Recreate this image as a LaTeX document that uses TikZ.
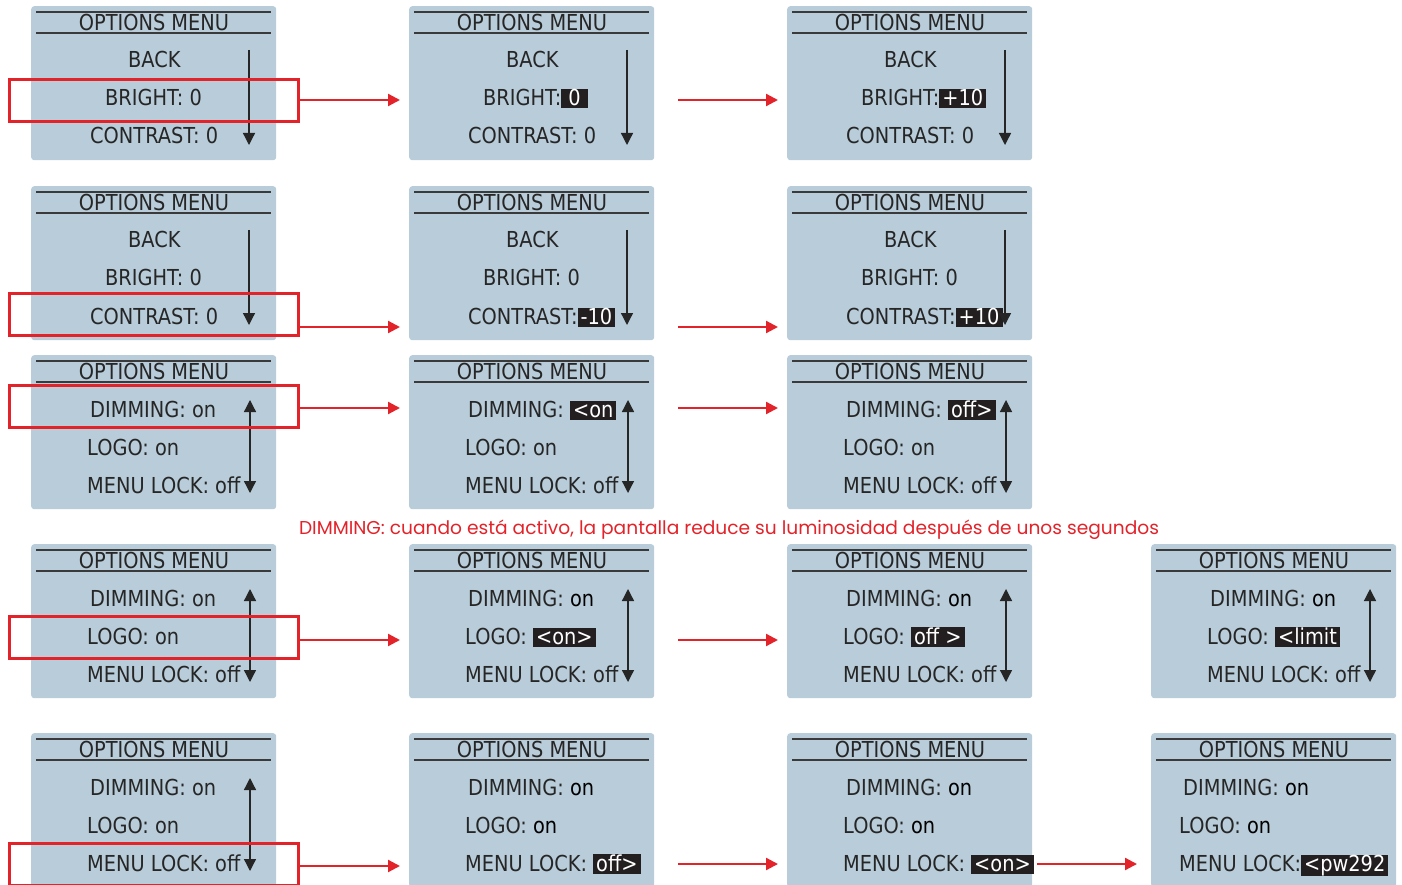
\documentclass[tikz,border=0pt]{standalone}
\usepackage{fontspec}
\setmainfont{DejaVu Sans}[FakeStretch=0.88]
\newfontfamily\capfont{Poppins}
\usetikzlibrary{arrows.meta,calc}
\definecolor{panelbg}{HTML}{B8CCD9}
\definecolor{txtc}{HTML}{262626}
\definecolor{hdrline}{HTML}{3A3A3A}
\definecolor{hlbg}{HTML}{231F20}
\definecolor{redc}{HTML}{E3232A}
\newcommand\hl[1]{{\setlength{\fboxsep}{0pt}\colorbox{hlbg}{\rule[-2.5pt]{0pt}{19pt}\hspace{3pt}\textcolor{white}{#1}\hspace{3pt}}}}
\newcommand\blk[1]{\textcolor{black}{#1}}
\tikzset{
  panel/.style={fill=panelbg, draw=none, rounded corners=3pt, minimum width=245pt, minimum height=154pt, inner sep=0pt, anchor=north west},
  hdr/.style={draw=hdrline, line width=1.4pt},
  mtxt/.style={text=txtc, font=\fontsize{22pt}{26pt}\selectfont, inner sep=0pt, anchor=base west},
  ttl/.style={text=txtc, font=\fontsize{22pt}{26pt}\selectfont, inner sep=0pt, anchor=base},
  scrl/.style={draw=txtc, line width=1.3pt, -{Triangle[length=12pt,width=12pt]}},
  scrlb/.style={draw=txtc, line width=1.3pt, {Triangle[length=12pt,width=12pt]}-{Triangle[length=12pt,width=12pt]}},
  redbox/.style={draw=redc, line width=2.6pt, minimum width=289pt, minimum height=42pt, inner sep=0pt, anchor=north west},
  redarr/.style={draw=redc, line width=2.2pt, -{Triangle[length=12pt,width=12pt]}},
}
\newcommand\scr[3]{%
  \node[panel] (#1) at (#2,#3) {};
  \draw[hdr] ($(#1.north west)+(5,6)$) -- ($(#1.north east)+(-5,6)$);
  \draw[hdr] ($(#1.north west)+(5,27)$) -- ($(#1.north east)+(-5,27)$);
  \node[ttl] (#1-t) at ($(#1.north west)+(123,24.5)$) {OPTIONS MENU};
}
\newcommand\scrline[5]{\node[mtxt] (#1-#2) at ($(#1.north west)+(#3,#4)$) {#5};}
\newcommand\scrdown[1]{\draw[scrl] ($(#1.north west)+(218,44)$) -- ($(#1.north west)+(218,139)$);}
\newcommand\scrboth[1]{\draw[scrlb] ($(#1.north west)+(219,45)$) -- ($(#1.north west)+(219,138)$);}
\newcommand\captext{DIMMING: cuando está activo, la pantalla reduce su luminosidad después de unos segundos}
\newlength\capw
\begin{document}
\settowidth\capw{\capfont\fontsize{10pt}{12pt}\selectfont\captext}
\pgfmathsetmacro\capsz{10*860/\capw}
\begin{tikzpicture}[x=1pt,y=-1pt]
\fill[white] (0,0) rectangle (1402,885);
\useasboundingbox (0,0) rectangle (1402,885);
% ---------- row 1
\scr{p11}{31}{6}
\scrline{p11}{a}{97}{62}{BACK}
\scrline{p11}{b}{74}{100}{BRIGHT: 0}
\scrline{p11}{c}{59}{138}{CONTRAST: 0}
\scrdown{p11}
\scr{p12}{409}{6}
\scrline{p12}{a}{97}{62}{BACK}
\scrline{p12}{b}{74}{100}{BRIGHT:\hl{\hspace{4pt}0\hspace{4pt}}}
\scrline{p12}{c}{59}{138}{CONTRAST: 0}
\scrdown{p12}
\scr{p13}{787}{6}
\scrline{p13}{a}{97}{62}{BACK}
\scrline{p13}{b}{74}{100}{BRIGHT:\hl{+10}}
\scrline{p13}{c}{59}{138}{CONTRAST: 0}
\scrdown{p13}
% ---------- row 2
\scr{p21}{31}{186}
\scrline{p21}{a}{97}{62}{BACK}
\scrline{p21}{b}{74}{100}{BRIGHT: 0}
\scrline{p21}{c}{59}{138}{CONTRAST: 0}
\scrdown{p21}
\scr{p22}{409}{186}
\scrline{p22}{a}{97}{62}{BACK}
\scrline{p22}{b}{74}{100}{BRIGHT: 0}
\scrline{p22}{c}{59}{138}{CONTRAST:\hl{-10}}
\scrdown{p22}
\scr{p23}{787}{186}
\scrline{p23}{a}{97}{62}{BACK}
\scrline{p23}{b}{74}{100}{BRIGHT: 0}
\scrline{p23}{c}{59}{138}{CONTRAST:\hl{+10}}
\scrdown{p23}
% ---------- row 3
\scr{p31}{31}{355}
\scrline{p31}{a}{59}{62}{DIMMING: on}
\scrline{p31}{b}{56}{100}{LOGO: on}
\scrline{p31}{c}{56}{138}{MENU LOCK: off}
\scrboth{p31}
\scr{p32}{409}{355}
\scrline{p32}{a}{59}{62}{DIMMING: \hl{<on}}
\scrline{p32}{b}{56}{100}{LOGO: on}
\scrline{p32}{c}{56}{138}{MENU LOCK: off}
\scrboth{p32}
\scr{p33}{787}{355}
\scrline{p33}{a}{59}{62}{DIMMING: \hl{off>}}
\scrline{p33}{b}{56}{100}{LOGO: on}
\scrline{p33}{c}{56}{138}{MENU LOCK: off}
\scrboth{p33}
% ---------- caption
\node[text=redc, font=\capfont\fontsize{\capsz pt}{\capsz pt}\selectfont, inner sep=0pt, anchor=base] (cap) at (729,534) {\captext};
% ---------- row 4
\scr{p41}{31}{544}
\scrline{p41}{a}{59}{62}{DIMMING: on}
\scrline{p41}{b}{56}{100}{LOGO: on}
\scrline{p41}{c}{56}{138}{MENU LOCK: off}
\scrboth{p41}
\scr{p42}{409}{544}
\scrline{p42}{a}{59}{62}{DIMMING: \blk{on}}
\scrline{p42}{b}{56}{100}{LOGO: \hl{<on>}}
\scrline{p42}{c}{56}{138}{MENU LOCK: off}
\scrboth{p42}
\scr{p43}{787}{544}
\scrline{p43}{a}{59}{62}{DIMMING: \blk{on}}
\scrline{p43}{b}{56}{100}{LOGO: \hl{off >}}
\scrline{p43}{c}{56}{138}{MENU LOCK: off}
\scrboth{p43}
\scr{p44}{1151}{544}
\scrline{p44}{a}{59}{62}{DIMMING: \blk{on}}
\scrline{p44}{b}{56}{100}{LOGO: \hl{<limit}}
\scrline{p44}{c}{56}{138}{MENU LOCK: off}
\scrboth{p44}
% ---------- row 5
\scr{p51}{31}{733}
\scrline{p51}{a}{59}{62}{DIMMING: on}
\scrline{p51}{b}{56}{100}{LOGO: on}
\scrline{p51}{c}{56}{138}{MENU LOCK: off}
\scrboth{p51}
\scr{p52}{409}{733}
\scrline{p52}{a}{59}{62}{DIMMING: \blk{on}}
\scrline{p52}{b}{56}{100}{LOGO: \blk{on}}
\scrline{p52}{c}{56}{138}{MENU LOCK: \hl{off>}}
\scr{p53}{787}{733}
\scrline{p53}{a}{59}{62}{DIMMING: \blk{on}}
\scrline{p53}{b}{56}{100}{LOGO: \blk{on}}
\scrline{p53}{c}{56}{138}{MENU LOCK: \hl{<on>}}
\scr{p54}{1151}{733}
\scrline{p54}{a}{32}{62}{DIMMING: \blk{on}}
\scrline{p54}{b}{28}{100}{LOGO: \blk{on}}
\scrline{p54}{c}{28}{138}{MENU LOCK:\hl{<pw292}}
% ---------- red selection boxes
\node[redbox] (r1) at (8,78) {};
\node[redbox] (r2) at (8,292) {};
\node[redbox] (r3) at (8,384) {};
\node[redbox] (r4) at (8,615) {};
\node[redbox] (r5) at (8,842) {};
% ---------- red arrows
\coordinate (a1) at (400,100);
\coordinate (a2) at (400,327);
\coordinate (a3) at (400,408);
\coordinate (a4) at (400,640);
\coordinate (a5) at (400,866);
\draw[redarr] (r1.east |- a1) -- (a1);
\draw[redarr] (r2.east |- a2) -- (a2);
\draw[redarr] (r3.east |- a3) -- (a3);
\draw[redarr] (r4.east |- a4) -- (a4);
\draw[redarr] (r5.east |- a5) -- (a5);
\coordinate (b1s) at (678,100); \coordinate (b1e) at (778,100);
\coordinate (b2s) at (678,327); \coordinate (b2e) at (778,327);
\coordinate (b3s) at (678,408); \coordinate (b3e) at (778,408);
\coordinate (b4s) at (678,640); \coordinate (b4e) at (778,640);
\coordinate (b5s) at (678,864); \coordinate (b5e) at (778,864);
\coordinate (c5s) at (1037,864); \coordinate (c5e) at (1137,864);
\draw[redarr] (b1s) -- (b1e);
\draw[redarr] (b2s) -- (b2e);
\draw[redarr] (b3s) -- (b3e);
\draw[redarr] (b4s) -- (b4e);
\draw[redarr] (b5s) -- (b5e);
\draw[redarr] (c5s) -- (c5e);
\end{tikzpicture}
\end{document}
